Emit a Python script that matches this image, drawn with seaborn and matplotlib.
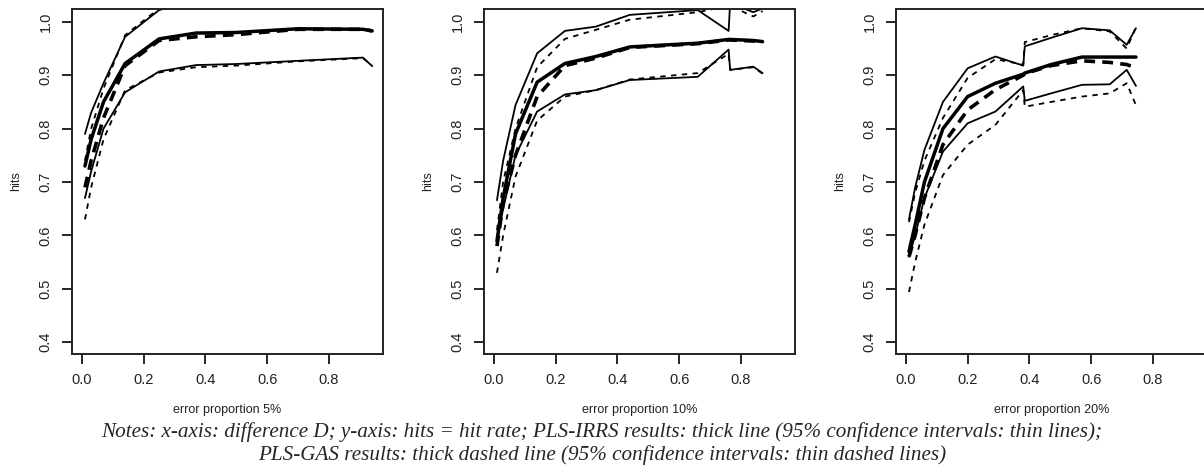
import matplotlib
matplotlib.use("Agg")
import matplotlib.pyplot as plt
import seaborn as sns
import numpy as np

# ---- data ----
panel_titles = ["error proportion 5%", "error proportion 10%", "error proportion 20%"]

# error proportion 5%
x_05 = [0.01, 0.03, 0.07, 0.14, 0.25, 0.37, 0.50, 0.70, 0.91, 0.94]
irrs_05 = [0.73, 0.78, 0.85, 0.922, 0.968, 0.979, 0.980, 0.987, 0.986, 0.983]
irrs_lo_05 = [0.67, 0.72, 0.80, 0.868, 0.907, 0.919, 0.921, 0.927, 0.933, 0.917]
irrs_hi_05 = [0.79, 0.83, 0.885, 0.972, 1.022, 1.040, 1.045, 1.050, 1.050, 1.050]
gas_05 = [0.69, 0.74, 0.82, 0.918, 0.965, 0.972, 0.976, 0.986, 0.986, 0.983]
gas_lo_05 = [0.63, 0.69, 0.78, 0.872, 0.905, 0.915, 0.918, 0.926, 0.932, 0.918]
gas_hi_05 = [0.74, 0.80, 0.875, 0.975, 1.025, 1.040, 1.045, 1.050, 1.050, 1.050]

# error proportion 10%
x_10 = [0.01, 0.03, 0.07, 0.14, 0.23, 0.33, 0.44, 0.66, 0.76, 0.765, 0.84, 0.87]
irrs_10 = [0.59, 0.67, 0.79, 0.887, 0.922, 0.935, 0.953, 0.960, 0.967, 0.967, 0.965, 0.963]
irrs_lo_10 = [0.59, 0.65, 0.75, 0.832, 0.864, 0.872, 0.891, 0.897, 0.948, 0.910, 0.916, 0.904]
irrs_hi_10 = [0.666, 0.74, 0.844, 0.941, 0.983, 0.991, 1.013, 1.022, 0.983, 1.035, 1.018, 1.025]
gas_10 = [0.58, 0.66, 0.75, 0.86, 0.918, 0.932, 0.952, 0.959, 0.966, 0.966, 0.964, 0.962]
gas_lo_10 = [0.53, 0.60, 0.71, 0.815, 0.860, 0.872, 0.892, 0.904, 0.940, 0.910, 0.915, 0.903]
gas_hi_10 = [0.61, 0.70, 0.80, 0.915, 0.968, 0.985, 1.004, 1.018, 1.030, 1.030, 1.010, 1.020]

# error proportion 20%
x_20 = [0.01, 0.03, 0.06, 0.12, 0.20, 0.29, 0.38, 0.385, 0.47, 0.57, 0.66, 0.715, 0.745]
irrs_20 = [0.57, 0.62, 0.70, 0.80, 0.86, 0.885, 0.902, 0.904, 0.920, 0.934, 0.934, 0.934, 0.934]
irrs_lo_20 = [0.56, 0.60, 0.67, 0.757, 0.81, 0.832, 0.879, 0.852, 0.866, 0.882, 0.883, 0.910, 0.880]
irrs_hi_20 = [0.63, 0.69, 0.76, 0.85, 0.913, 0.935, 0.918, 0.954, 0.970, 0.988, 0.984, 0.957, 0.988]
gas_20 = [0.56, 0.60, 0.67, 0.77, 0.835, 0.873, 0.900, 0.903, 0.918, 0.927, 0.924, 0.920, 0.914]
gas_lo_20 = [0.494, 0.55, 0.62, 0.713, 0.77, 0.807, 0.872, 0.841, 0.850, 0.860, 0.866, 0.885, 0.844]
gas_hi_20 = [0.625, 0.68, 0.74, 0.82, 0.895, 0.930, 0.920, 0.962, 0.975, 0.988, 0.982, 0.950, 0.990]

panels = [
    (x_05, irrs_05, irrs_lo_05, irrs_hi_05, gas_05, gas_lo_05, gas_hi_05),
    (x_10, irrs_10, irrs_lo_10, irrs_hi_10, gas_10, gas_lo_10, gas_hi_10),
    (x_20, irrs_20, irrs_lo_20, irrs_hi_20, gas_20, gas_lo_20, gas_hi_20),
]

notes_1 = "Notes: x-axis: difference D; y-axis: hits = hit rate; PLS-IRRS results: thick line (95% confidence intervals: thin lines);"
notes_2 = "PLS-GAS results: thick dashed line (95% confidence intervals: thin dashed lines)"

# ---- style ----
sns.set_style("white")
plt.rcParams['font.family'] = ['Liberation Sans', 'DejaVu Sans']

W, H = 1204, 475
fig = plt.figure(figsize=(W / 100, H / 100), dpi=100)

lefts = [72, 484, 896]
ax_w, ax_top, ax_bot = 311, 9, 354

for i, (x, m1, l1, h1, m2, l2, h2) in enumerate(panels):
    ax = fig.add_axes([lefts[i] / W, (H - ax_bot) / H, ax_w / W, (ax_bot - ax_top) / H])
    # thin CI lines
    for y in (l1, h1):
        sns.lineplot(x=x, y=y, ax=ax, color='black', lw=1.3, estimator=None, sort=False)
    for y in (l2, h2):
        sns.lineplot(x=x, y=y, ax=ax, color='black', lw=1.3, estimator=None, sort=False,
                     linestyle=(0, (3, 3)))
    # thick means
    sns.lineplot(x=x, y=m1, ax=ax, color='black', lw=2.5, estimator=None, sort=False)
    sns.lineplot(x=x, y=m2, ax=ax, color='black', lw=2.6, estimator=None, sort=False,
                 linestyle=(0, (3, 2)))

    ax.set_xlim(-0.032, 0.975)
    ax.set_ylim(0.378, 1.024)
    ax.set_xticks([0.0, 0.2, 0.4, 0.6, 0.8])
    ax.set_xticklabels(['0.0', '0.2', '0.4', '0.6', '0.8'])
    ax.set_yticks([0.4, 0.5, 0.6, 0.7, 0.8, 0.9, 1.0])
    ax.set_yticklabels(['0.4', '0.5', '0.6', '0.7', '0.8', '0.9', '1.0'], rotation=90, va='center')
    ax.tick_params(axis='both', direction='out', length=7, width=1.2, color='black',
                   labelsize=10.5, labelcolor='#222222', pad=7, left=True, bottom=True)
    for s in ax.spines.values():
        s.set_color('#222222')
        s.set_linewidth(1.4)
    ax.set_xlabel(panel_titles[i], fontsize=9, color='#222222', labelpad=12)
    ax.set_ylabel('hits', fontsize=9, color='#222222', labelpad=12)

serif = ['Liberation Serif', 'DejaVu Serif']
fig.text(0.5, 1 - 432 / H, notes_1, ha='center', va='center', fontsize=15.2,
         style='italic', family=serif)
fig.text(0.5, 1 - 455 / H, notes_2, ha='center', va='center', fontsize=15.2,
         style='italic', family=serif)

fig.savefig("out.png", dpi=100)
